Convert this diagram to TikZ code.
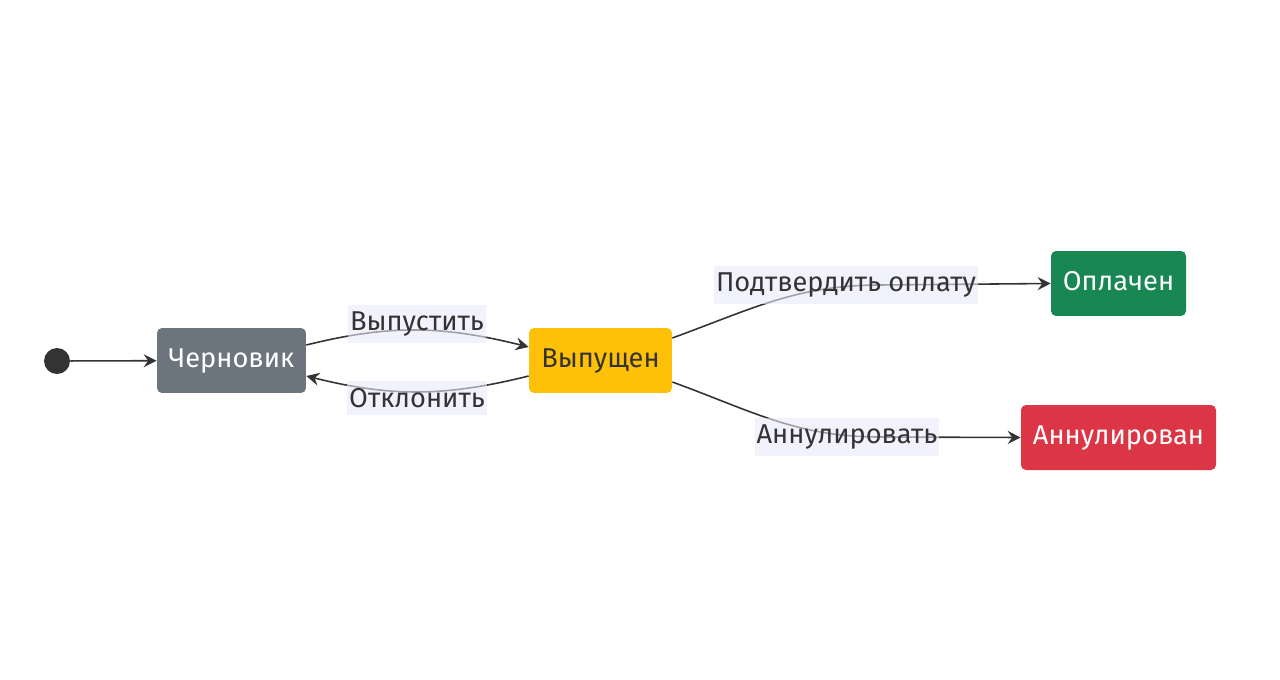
\documentclass[tikz,border=0pt]{standalone}
\usepackage{fontspec}
\setmainfont{Fira Sans}
\usetikzlibrary{positioning, calc, arrows.meta}

\definecolor{draftgray}{HTML}{6C757D}
\definecolor{issuedyellow}{HTML}{FFC107}
\definecolor{paidgreen}{HTML}{198754}
\definecolor{cancelred}{HTML}{DC3545}
\definecolor{inkgray}{HTML}{333333}
\definecolor{labelbg}{HTML}{EAEAFA}

\tikzset{
	state/.style={rectangle, rounded corners=0.1cm, minimum height=1.3cm, inner sep=0pt, text height=1.1em, text depth=0.25em, font=\fontsize{15.5}{18}\selectfont},
	edge/.style={-{Stealth[length=0.26cm, width=0.26cm, inset=0.09cm]}, inkgray, line width=0.9pt},
	edgelabel/.style={fill=labelbg, fill opacity=0.6, text opacity=1, text=inkgray, inner xsep=1pt, inner ysep=4pt, font=\fontsize{15.5}{18}\selectfont}
}

\begin{document}
\begin{tikzpicture}[x=0.02cm, y=-0.02cm]
			\useasboundingbox (0,0) rectangle (1280,679);

			\node[circle, fill=inkgray, minimum size=0.52cm, inner sep=0pt] (st) at (57,361) {};

			\begin{scope}
				\node[state, fill=draftgray, text=white, minimum width=2.98cm] (ch) at (231.5,360.5) {Черновик};
				\node[state, fill=issuedyellow, text=inkgray, minimum width=2.86cm] (vy) at (600.5,360.5) {Выпущен};
				\node[state, fill=paidgreen, text=white, minimum width=2.7cm] (op) at (1118.5,283.5) {Оплачен};
				\node[state, fill=cancelred, text=white, minimum width=3.9cm] (an) at (1118.5,437.5) {Аннулирован};
			\end{scope}

			\coordinate (paybend) at (880,285);
			\coordinate (cancelbend) at (880,437);

			\begin{scope}[edge]
				\draw (st) -- (ch);
				\draw ([yshift=0.31cm]ch.east) to[out=14, in=166] ([yshift=0.27cm]vy.west);
				\draw ([yshift=-0.31cm]vy.west) to[out=194, in=-14] ([yshift=-0.31cm]ch.east);
				\draw ([yshift=0.45cm]vy.east) to[out=20, in=180] (paybend) -- (op.west);
				\draw ([yshift=-0.43cm]vy.east) to[out=-20, in=180] (cancelbend) -- (an.west);
			\end{scope}

			\begin{scope}
				\node[edgelabel] (issue) at (417,324) {Выпустить};
				\node[edgelabel] (reject) at (417,398) {Отклонить};
				\node[edgelabel] (pay) at (846,285) {Подтвердить оплату};
				\node[edgelabel] (cancel) at (847,437) {Аннулировать};
			\end{scope}
		\end{tikzpicture}
\end{document}
